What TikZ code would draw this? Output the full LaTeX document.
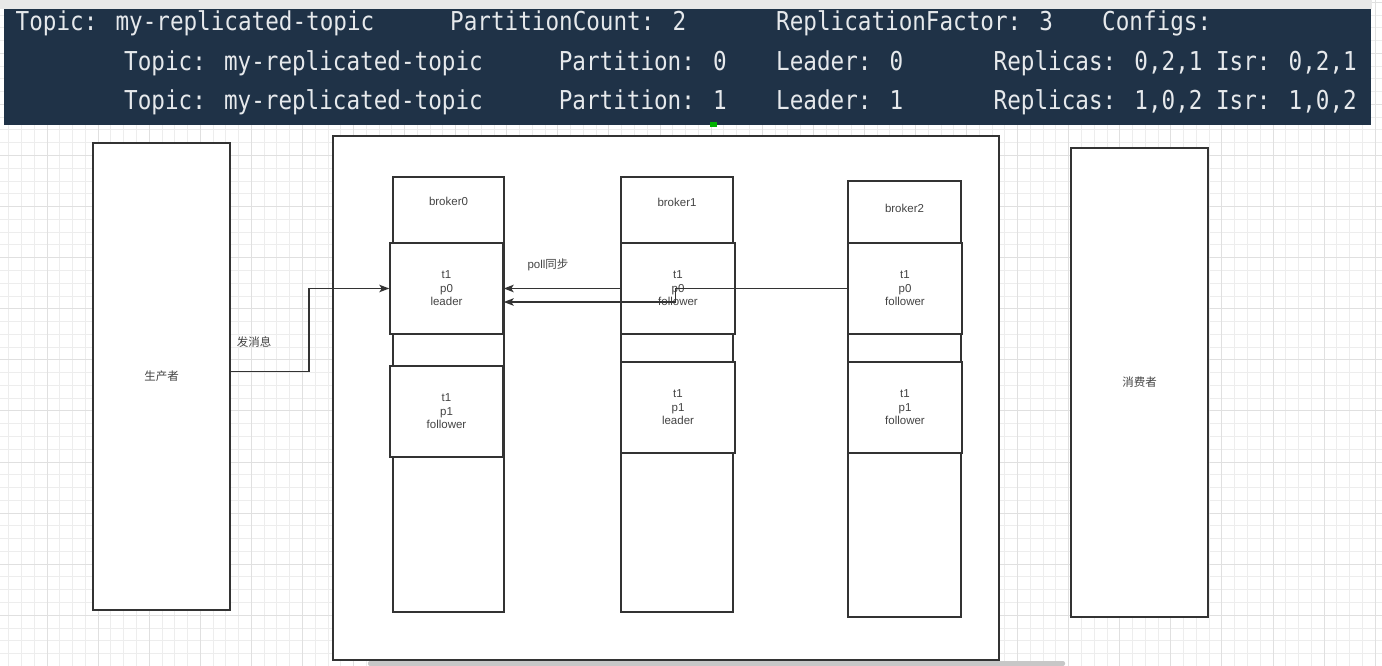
\documentclass[tikz,border=0pt]{standalone}
\usepackage{fontspec}
\setmainfont{Liberation Sans}
\newfontfamily\cjk{Noto Sans CJK SC}
\newfontfamily\termfont[FakeStretch=0.87]{DejaVu Sans Mono}
\usepackage{tikz}
\usetikzlibrary{arrows.meta, calc, positioning}
\usepackage{xcolor}
\definecolor{termbg}{HTML}{1F3247}
\definecolor{termfg}{HTML}{E6E9EC}
\definecolor{gridminor}{HTML}{EDEDED}
\definecolor{gridmajor}{HTML}{E0E0E0}
\definecolor{edge}{HTML}{333333}
\definecolor{ink}{HTML}{444444}

\begin{document}
\begin{tikzpicture}[
    x=1pt, y=-1pt,
    box/.style={draw=edge, fill=white, line width=1.5pt, inner sep=0pt, align=center, text=ink, font=\fontsize{11.5}{13.5}\selectfont},
    partbox/.style={box, minimum width=113, minimum height=91},
    tag/.style={inner sep=0pt, text=ink, font=\fontsize{11.5}{13.5}\selectfont},
    termtext/.style={anchor=base west, inner sep=0pt, text=termfg, font=\termfont\fontsize{26}{26}\selectfont},
    arrow/.style={-{Stealth[length=10pt, width=7.5pt, inset=2.5pt]}, draw=edge, line width=1.5pt}
]
    \useasboundingbox (0,0) rectangle (1382,666);

    % 背景网格
    \fill[white] (0,0) rectangle (1382,666);
    \foreach \i in {0,...,108}
        \draw[gridminor, line width=1pt] ({8.8+12.77*\i},0) -- ++(0,666);
    \foreach \i in {0,...,52}
        \draw[gridminor, line width=1pt] (0,{2.3+12.77*\i}) -- ++(1382,0);
    \foreach \i in {0,...,26}
        \draw[gridmajor, line width=1pt] ({47.1+51.08*\i},0) -- ++(0,666);
    \foreach \i in {0,...,13}
        \draw[gridmajor, line width=1pt] (0,{2.3+51.08*\i}) -- ++(1382,0);

    % 顶部终端输出
    \fill[black!9] (0,0) rectangle (1372,9);
    \fill[termbg] (4,9) rectangle (1371,125);
    \fill[green!70!black] (710,122) rectangle (717,127);
    \node[termtext] (hdrTopic) at (15.5,31) {Topic: my-replicated-topic};
    \node[termtext] (hdrCount) at (450,31) {PartitionCount: 2};
    \node[termtext] (hdrFactor) at (776,31) {ReplicationFactor: 3};
    \node[termtext] (hdrConfigs) at (1102,31) {Configs:};
    \node[termtext] (p0Topic) at (124,71) {Topic: my-replicated-topic};
    \node[termtext] (p0Part) at (558.6,71) {Partition: 0};
    \node[termtext] (p0Leader) at (776,71) {Leader: 0};
    \node[termtext] (p0Replicas) at (993.5,71) {Replicas: 0,2,1 Isr: 0,2,1};
    \node[termtext] (p1Topic) at (124,110) {Topic: my-replicated-topic};
    \node[termtext] (p1Part) at (558.6,110) {Partition: 1};
    \node[termtext] (p1Leader) at (776,110) {Leader: 1};
    \node[termtext] (p1Replicas) at (993.5,110) {Replicas: 1,0,2 Isr: 1,0,2};

    % 生产者与消费者
    \node[box, minimum width=137, minimum height=467] (producer) at (161.5,376.5) {\cjk 生产者};
    \node[box, minimum width=137, minimum height=469] (consumer) at (1139.5,382.5) {\cjk 消费者};

    % 集群
    \node[box, minimum width=666, minimum height=524, line width=1.3pt] (cluster) at (666,398) {};

    % 三个 broker
    \node[box, minimum width=111, minimum height=435] (broker0) at (448.5,394.5) {};
    \node[box, minimum width=112, minimum height=435] (broker1) at (677,394.5) {};
    \node[box, minimum width=113, minimum height=436] (broker2) at (904.5,399) {};
    \node[tag] (broker0lbl) at ([yshift=-25]broker0.north) {broker0};
    \node[tag] (broker1lbl) at ([yshift=-26]broker1.north) {broker1};
    \node[tag] (broker2lbl) at ([yshift=-28]broker2.north) {broker2};

    % 分区副本
    \node[partbox] (b0p0) at (446.5,288.5) {t1\\p0\\leader};
    \node[partbox] (b0p1) at (446.5,411.5) {t1\\p1\\follower};
    \node[partbox, minimum width=114] (b1p0) at (678,288.5) {t1\\p0\\follower};
    \node[partbox, minimum width=114] (b1p1) at (678,407.5) {t1\\p1\\leader};
    \node[partbox, minimum width=114] (b2p0) at (905,288.5) {t1\\p0\\follower};
    \node[partbox, minimum width=114] (b2p1) at (905,407.5) {t1\\p1\\follower};

    % 连接箭头
    \draw[arrow] ([yshift=5]producer.east) -- ++(78,0) |- (b0p0.west);
    \draw[arrow] (b1p0.west) -- (b0p0.east);
    \draw[arrow] (b2p0.west) -- ++(-172,0) |- ([yshift=-13.5]b0p0.east);
    \node[tag] (sendlbl) at (254,342) {\cjk 发消息};
    \node[tag] (polllbl) at (548,265) {poll{\cjk 同步}};

    % 底部滚动条
    \fill[black!22, rounded corners=2pt] (368,661) rectangle (1065,666);
\end{tikzpicture}
\end{document}
